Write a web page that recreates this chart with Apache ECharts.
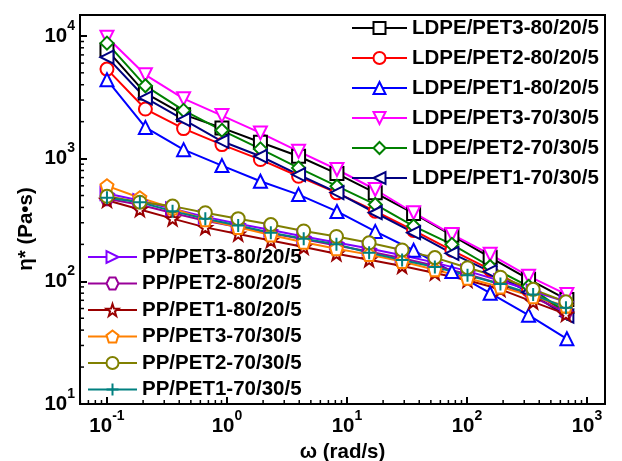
<!DOCTYPE html>
<html><head><meta charset="utf-8">
<script src="https://cdn.jsdelivr.net/npm/echarts@6/dist/echarts.min.js"></script>
<style>html,body{margin:0;padding:0;background:#fff}#c{width:622px;height:461px}</style>
</head><body><div id="c"></div>
<script>
// ---- data ----
const ldpeOmega = [0.1, 0.209, 0.435, 0.908, 1.9, 3.95, 8.25, 17.2, 35.9, 74.9, 156, 326, 680];
const ppOmega = [0.1, 0.188, 0.352, 0.66, 1.24, 2.32, 4.36, 8.17, 15.3, 28.8, 54, 101, 190, 356, 668];

const ldpeNames = ['LDPE/PET3-80/20/5', 'LDPE/PET2-80/20/5', 'LDPE/PET1-80/20/5',
                   'LDPE/PET3-70/30/5', 'LDPE/PET2-70/30/5', 'LDPE/PET1-70/30/5'];
const ppNames = ['PP/PET3-80/20/5', 'PP/PET2-80/20/5', 'PP/PET1-80/20/5',
                 'PP/PET3-70/30/5', 'PP/PET2-70/30/5', 'PP/PET1-70/30/5'];

const ldpePet3_80 = [7690, 3420, 2280, 1778, 1360, 1045, 755, 526, 357, 237, 157, 104, 71];
const ldpePet2_80 = [5360, 2535, 1755, 1300, 982, 718, 526, 373, 260, 179, 125, 84.5, 56];
const ldpePet1_80 = [4390, 1795, 1183, 877, 654, 509, 371, 255, 179, 120, 80, 53, 34];
const ldpePet3_70 = [9750, 4820, 3080, 2240, 1620, 1146, 815, 560, 362, 241, 166, 110, 78];
const ldpePet2_70 = [8730, 3920, 2470, 1700, 1200, 840, 596, 423, 282, 200, 132, 91, 55];
const ldpePet1_70 = [6710, 3120, 2075, 1384, 1045, 741, 529, 362, 249, 169, 120, 81.5, 52];

const ppPet3_80 = [520, 455, 390, 335, 295, 262, 232, 207, 185, 163, 142, 121, 101, 83, 68];
const ppPet2_80 = [470, 420, 360, 312, 277, 246, 220, 196, 175, 154, 134, 114, 95, 74, 56];
const ppPet1_80 = [458, 385, 324, 275, 243, 215, 190, 168, 150, 133, 117, 102, 86, 68, 54];
const ppPet3_70 = [600, 480, 395, 318, 275, 238, 208, 184, 165, 145, 124, 106, 90, 75, 63];
const ppPet2_70 = [493, 441, 410, 362, 324, 290, 257, 232, 206, 180, 156, 129, 108, 86, 68];
const ppPet1_70 = [479, 441, 373, 324, 285, 249, 222, 200, 171, 149, 131, 112, 95, 78, 61];

const xMinorTicks = [0.06, 0.07, 0.08, 0.09, 0.2, 0.3, 0.4, 0.5, 0.6, 0.7, 0.8, 0.9,
  2, 3, 4, 5, 6, 7, 8, 9, 20, 30, 40, 50, 60, 70, 80, 90, 200, 300, 400, 500, 600, 700, 800, 900];
const yMinorTicks = [20, 30, 40, 50, 60, 70, 80, 90, 200, 300, 400, 500, 600, 700, 800, 900,
  2000, 3000, 4000, 5000, 6000, 7000, 8000, 9000];

const xTitle = 'ω (rad/s)';
const yTitle = 'η* (Pa•s)';

// ---- styling ----
const F = 'Liberation Sans, Arial, sans-serif';
const X_MIN = 0.0596, X_MAX = 1413, Y_MIN = 10, Y_MAX = 14800;

const pentagon = 'path://M0,-10 L9.51,-3.09 L5.88,8.09 L-5.88,8.09 L-9.51,-3.09 Z';
const hexagon = 'path://M10,0 L5,8.66 L-5,8.66 L-10,0 L-5,-8.66 L5,-8.66 Z';
const star = 'path://M0,-10 L2.35,-3.24 L9.51,-3.09 L3.8,1.24 L5.88,8.09 L0,4 L-5.88,8.09 L-3.8,1.24 L-9.51,-3.09 L-2.35,-3.24 Z';
const plus = 'path://M0,-10 L0,10 M-10,0 L10,0';

const seriesDefs = [
  {name: ldpeNames[0], x: ldpeOmega, y: ldpePet3_80, c: '#000000', s: 'rect', r: 0},
  {name: ldpeNames[1], x: ldpeOmega, y: ldpePet2_80, c: '#FF0000', s: 'circle', r: 0},
  {name: ldpeNames[2], x: ldpeOmega, y: ldpePet1_80, c: '#0000FF', s: 'triangle', r: 0},
  {name: ldpeNames[3], x: ldpeOmega, y: ldpePet3_70, c: '#FF00FF', s: 'triangle', r: 180},
  {name: ldpeNames[4], x: ldpeOmega, y: ldpePet2_70, c: '#008000', s: 'diamond', r: 0},
  {name: ldpeNames[5], x: ldpeOmega, y: ldpePet1_70, c: '#000080', s: 'triangle', r: 90},
  {name: ppNames[0], x: ppOmega, y: ppPet3_80, c: '#8000FF', s: 'triangle', r: -90},
  {name: ppNames[1], x: ppOmega, y: ppPet2_80, c: '#990099', s: hexagon, r: 0},
  {name: ppNames[2], x: ppOmega, y: ppPet1_80, c: '#990000', s: star, r: 0},
  {name: ppNames[3], x: ppOmega, y: ppPet3_70, c: '#FF8000', s: pentagon, r: 0},
  {name: ppNames[4], x: ppOmega, y: ppPet2_70, c: '#808000', s: 'circle', r: 0},
  {name: ppNames[5], x: ppOmega, y: ppPet1_70, c: '#008080', s: plus, r: 0}
];

const series = seriesDefs.map(d => ({
  type: 'line', name: d.name,
  data: d.x.map((v, i) => [v, d.y[i]]),
  symbol: d.s, symbolSize: 13, symbolRotate: d.r,
  showAllSymbol: true,
  lineStyle: {color: d.c, width: 2},
  itemStyle: {color: '#ffffff', borderColor: d.c, borderWidth: 2},
  emphasis: {disabled: true},
  animation: false
}));

series.push({
  type: 'custom', name: 'xminor', silent: true, animation: false, z: 5,
  data: xMinorTicks.map(v => [v, Y_MIN]),
  renderItem: (params, api) => {
    const p = api.coord([api.value(0), api.value(1)]);
    return {type: 'line', shape: {x1: p[0], y1: p[1], x2: p[0], y2: p[1] - 4},
            style: {stroke: '#000', lineWidth: 1.5}};
  }
});
series.push({
  type: 'custom', name: 'yminor', silent: true, animation: false, z: 5,
  data: yMinorTicks.map(v => [X_MIN, v]),
  renderItem: (params, api) => {
    const p = api.coord([api.value(0), api.value(1)]);
    return {type: 'line', shape: {x1: p[0], y1: p[1], x2: p[0] + 4, y2: p[1]},
            style: {stroke: '#000', lineWidth: 1.5}};
  }
});

const supFmt = v => { const e = Math.round(Math.log10(v)); return '{b|10}{s|' + e + '}'; };
const richLab = {
  b: {fontSize: 20.5, fontWeight: 'bold', fontFamily: F, color: '#000', lineHeight: 34},
  s: {fontSize: 14, fontWeight: 'bold', fontFamily: F, color: '#000', lineHeight: 16, verticalAlign: 'top'}
};

const legendText = {fontSize: 20.5, fontWeight: 'bold', fontFamily: F, color: '#000'};

const option = {
  backgroundColor: '#fff',
  animation: false,
  grid: {left: 80, right: 17, top: 15, bottom: 57, show: true, borderColor: '#000', borderWidth: 2,
         backgroundColor: 'transparent', containLabel: false, outerBoundsMode: 'none'},
  xAxis: {
    type: 'log', min: X_MIN, max: X_MAX, logBase: 10,
    name: xTitle, nameLocation: 'middle', nameGap: 38,
    nameTextStyle: {fontSize: 20.5, fontWeight: 'bold', fontFamily: F, color: '#000'},
    axisLine: {lineStyle: {color: '#000', width: 2}},
    axisTick: {inside: true, length: 7, lineStyle: {color: '#000', width: 2}},
    axisLabel: {formatter: supFmt, rich: richLab, margin: 5, showMinLabel: false, showMaxLabel: false},
    splitLine: {show: false}
  },
  yAxis: {
    type: 'log', min: Y_MIN, max: Y_MAX, logBase: 10,
    axisLine: {lineStyle: {color: '#000', width: 2}},
    axisTick: {inside: true, length: 7, lineStyle: {color: '#000', width: 2}},
    axisLabel: {formatter: supFmt, rich: richLab, margin: 5, showMaxLabel: false},
    splitLine: {show: false}
  },
  graphic: [{
    type: 'text', x: 26, y: 229, rotation: Math.PI / 2, silent: true,
    style: {text: yTitle, fontSize: 20.5, fontWeight: 'bold', fontFamily: F, fill: '#000',
            align: 'center', verticalAlign: 'middle'}
  }],
  legend: [
    {orient: 'vertical', left: 351, top: 17.5, itemWidth: 55, itemHeight: 15, itemGap: 9,
     data: ldpeNames, textStyle: legendText, selectedMode: false, padding: 0},
    {orient: 'vertical', left: 87, top: 246.5, itemWidth: 49, itemHeight: 15, itemGap: 5.5,
     data: ppNames, textStyle: legendText, selectedMode: false, padding: 0}
  ],
  series: series
};

const chart = echarts.init(document.getElementById('c'), null, {renderer: 'canvas'});
chart.setOption(option);
</script>
</body></html>
